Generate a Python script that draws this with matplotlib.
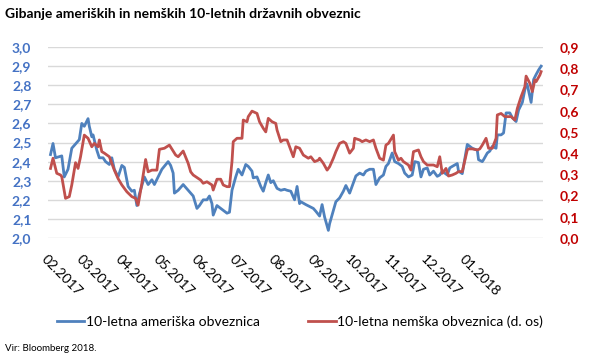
import matplotlib
matplotlib.use("Agg")
import matplotlib.pyplot as plt
import matplotlib.dates as mdates
from matplotlib.ticker import FuncFormatter
import pandas as pd

plt.rcParams['font.family'] = ['Lato', 'DejaVu Sans']

start = pd.Timestamp('2017-02-01')

# days since 1.2.2017 and yields
us_days = [2, 4, 6, 11, 13, 16, 19, 25, 27, 29, 32, 33, 35, 36, 39, 41, 44, 46, 49, 51,
           53, 56, 59, 61, 64, 67, 69, 71, 73, 77, 80, 83, 85, 88, 91, 96, 98, 100, 101, 104,
           108, 112, 114, 116, 119, 121, 124, 127, 129, 131, 132, 135, 138, 140, 143, 145, 147, 150, 152, 155,
           158, 160, 163, 164, 167, 170, 172, 174, 176, 178, 180, 183, 186, 189, 191, 194, 197, 199, 201, 202,
           206, 209, 212, 214, 217, 219, 221, 224, 225, 228, 230, 233, 236, 238, 241, 244, 246, 249, 252, 254,
           257, 260, 262, 265, 268, 270, 272, 275, 277, 280, 283, 285, 288, 291, 293, 296, 298, 300, 303, 305,
           308, 311, 313, 315, 319, 321, 323, 327, 328, 331, 335, 337, 339, 343, 344, 347, 348, 351, 353, 355,
           358, 359, 362, 364, 366, 369, 371, 374, 376, 379, 382, 383, 386, 388, 390, 392, 394]
us_yield = [2.437, 2.495, 2.42, 2.43, 2.32, 2.36, 2.47, 2.515, 2.60, 2.585, 2.625, 2.585, 2.53, 2.54, 2.46, 2.42, 2.42, 2.40, 2.385, 2.42,
            2.36, 2.32, 2.38, 2.37, 2.27, 2.245, 2.25, 2.17, 2.23, 2.32, 2.28, 2.305, 2.28, 2.32, 2.36, 2.40, 2.38, 2.34, 2.235, 2.25,
            2.28, 2.25, 2.235, 2.22, 2.155, 2.17, 2.20, 2.20, 2.22, 2.18, 2.12, 2.17, 2.155, 2.145, 2.13, 2.135, 2.25, 2.32, 2.36, 2.33,
            2.385, 2.375, 2.35, 2.315, 2.32, 2.27, 2.245, 2.29, 2.33, 2.29, 2.30, 2.26, 2.25, 2.255, 2.25, 2.245, 2.20, 2.27, 2.18, 2.19,
            2.175, 2.165, 2.155, 2.14, 2.115, 2.175, 2.11, 2.04, 2.075, 2.145, 2.19, 2.21, 2.245, 2.275, 2.235, 2.29, 2.325, 2.34, 2.33, 2.35,
            2.36, 2.36, 2.28, 2.315, 2.33, 2.375, 2.39, 2.445, 2.40, 2.39, 2.375, 2.34, 2.32, 2.33, 2.40, 2.395, 2.32, 2.36, 2.367, 2.33,
            2.35, 2.323, 2.33, 2.35, 2.33, 2.367, 2.375, 2.39, 2.35, 2.337, 2.49, 2.48, 2.47, 2.46, 2.41, 2.40, 2.41, 2.445, 2.455, 2.48,
            2.47, 2.54, 2.54, 2.55, 2.655, 2.655, 2.63, 2.61, 2.67, 2.71, 2.81, 2.80, 2.71, 2.83, 2.856, 2.88, 2.90]

de_days = [2, 4, 7, 10, 11, 14, 17, 19, 22, 24, 26, 29, 32, 35, 37, 40, 41, 43, 45, 49,
           53, 56, 59, 63, 67, 70, 72, 75, 78, 80, 83, 87, 89, 93, 97, 100, 102, 104, 108, 112,
           114, 116, 120, 122, 124, 127, 131, 132, 135, 138, 140, 143, 145, 147, 148, 151, 155, 156, 159, 160,
           163, 167, 169, 172, 174, 176, 179, 182, 183, 186, 188, 191, 194, 196, 198, 201, 204, 208, 210, 213,
           216, 217, 220, 223, 225, 228, 230, 233, 236, 238, 241, 244, 245, 249, 251, 254, 257, 260, 262, 265,
           268, 270, 272, 276, 277, 280, 282, 284, 288, 290, 292, 296, 298, 300, 303, 305, 308, 311, 313, 315,
           318, 320, 323, 326, 328, 331, 335, 336, 339, 343, 345, 347, 350, 352, 355, 358, 359, 362, 365, 367,
           370, 373, 375, 378, 381, 382, 385, 387, 389, 390, 393, 394]
de_yield = [0.328, 0.376, 0.305, 0.297, 0.289, 0.187, 0.195, 0.25, 0.355, 0.328, 0.383, 0.485, 0.47, 0.43, 0.446, 0.43, 0.462, 0.407, 0.40, 0.383,
            0.32, 0.28, 0.25, 0.218, 0.195, 0.187, 0.155, 0.258, 0.37, 0.312, 0.32, 0.32, 0.418, 0.423, 0.438, 0.41, 0.391, 0.383, 0.41, 0.352,
            0.312, 0.297, 0.281, 0.273, 0.258, 0.265, 0.25, 0.226, 0.277, 0.277, 0.25, 0.242, 0.242, 0.36, 0.454, 0.47, 0.47, 0.556, 0.548, 0.572,
            0.598, 0.587, 0.548, 0.517, 0.50, 0.564, 0.548, 0.54, 0.509, 0.454, 0.462, 0.462, 0.415, 0.383, 0.43, 0.423, 0.391, 0.376, 0.383, 0.36,
            0.367, 0.376, 0.352, 0.32, 0.336, 0.376, 0.407, 0.446, 0.454, 0.446, 0.40, 0.423, 0.47, 0.462, 0.454, 0.462, 0.454, 0.462, 0.423, 0.376,
            0.367, 0.438, 0.446, 0.485, 0.407, 0.367, 0.376, 0.36, 0.344, 0.32, 0.407, 0.415, 0.383, 0.36, 0.344, 0.344, 0.344, 0.336, 0.383, 0.305,
            0.328, 0.292, 0.297, 0.305, 0.313, 0.313, 0.415, 0.42, 0.42, 0.415, 0.42, 0.438, 0.47, 0.423, 0.423, 0.47, 0.58, 0.587, 0.572, 0.572,
            0.572, 0.556, 0.611, 0.666, 0.713, 0.763, 0.729, 0.69, 0.745, 0.737, 0.768, 0.784]

month_ticks = pd.date_range('2017-02-01', '2018-01-01', freq='MS')

blue = '#4F81BD'
red = '#C0504D'

us_dates = start + pd.to_timedelta(us_days, unit='D')
de_dates = start + pd.to_timedelta(de_days, unit='D')

fig = plt.figure(figsize=(6, 3.59), dpi=100)
ax = fig.add_axes([0.08, 0.337, 0.825, 0.532])
ax2 = ax.twinx()

l1, = ax.plot(us_dates, us_yield, color=blue, lw=2.0, label='10-letna ameriška obveznica')
l2, = ax2.plot(de_dates, de_yield, color=red, lw=2.0, label='10-letna nemška obveznica (d. os)')

ax.set_ylim(2.0, 3.0)
ax.set_yticks([2.0 + i * 0.1 for i in range(11)])
ax2.set_ylim(0.0, 0.9)
ax2.set_yticks([i * 0.1 for i in range(10)])
comma = FuncFormatter(lambda v, p: f'{v:.1f}'.replace('.', ','))
ax.yaxis.set_major_formatter(comma)
ax2.yaxis.set_major_formatter(comma)

ax.set_xlim(start + pd.Timedelta(days=0.5), start + pd.Timedelta(days=395.5))
ax.set_xticks(month_ticks)
ax.xaxis.set_major_formatter(mdates.DateFormatter('%m.%Y'))
for t in ax.get_xticklabels():
    t.set_rotation(-45)
    t.set_ha('left')
    t.set_va('top')
    t.set_rotation_mode('anchor')
    t.set_fontsize(10)

ax.grid(axis='y', color='#D9D9D9', lw=1)
ax.set_axisbelow(True)
for a in (ax, ax2):
    for s in a.spines.values():
        s.set_visible(False)
ax.tick_params(axis='both', length=0)
ax2.tick_params(axis='both', length=0)
ax.tick_params(axis='x', pad=11)
ax.tick_params(axis='y', labelcolor='#4472C4', labelsize=10, pad=12)
ax2.tick_params(axis='y', labelcolor='#C00000', labelsize=10, pad=12)
for t in ax.get_yticklabels() + ax2.get_yticklabels():
    t.set_fontweight('bold')

fig.text(0.008, 0.96, 'Gibanje ameriških in nemških 10-letnih državnih obveznic',
         fontsize=10, fontweight='bold', va='center', ha='left')
fig.legend(handles=[l1, l2], loc='center', bbox_to_anchor=(0.5, 0.103), ncol=2,
           frameon=False, fontsize=10, handlelength=2.0, handletextpad=0.1, columnspacing=3.5)
fig.text(0.008, 0.028, 'Vir: Bloomberg 2018.', fontsize=7, va='center', ha='left')

fig.savefig('out.png', dpi=100)
